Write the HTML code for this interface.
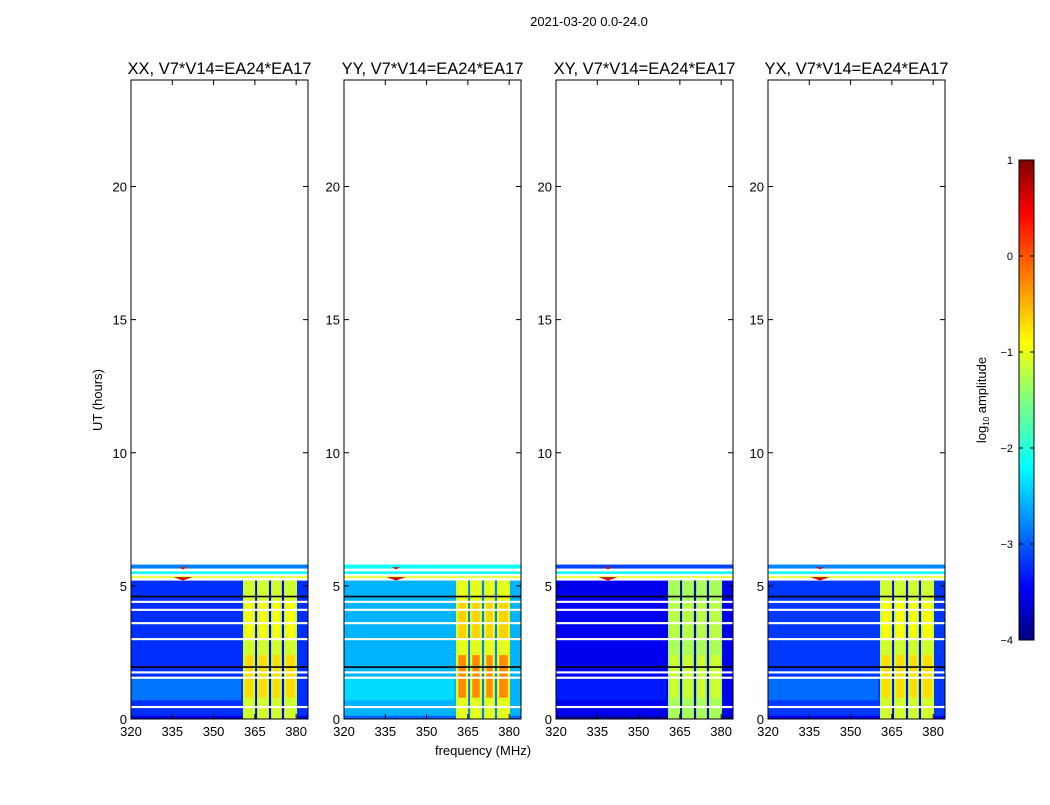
<!DOCTYPE html>
<html><head><meta charset="utf-8">
<style>
body{margin:0;background:#fff;width:1050px;height:800px;overflow:hidden;font-family:"Liberation Sans",sans-serif}
svg text{font-family:"Liberation Sans",sans-serif}
</style></head>
<body>
<svg id="chart" width="1050" height="800" xmlns="http://www.w3.org/2000/svg">
<defs>
<linearGradient id="jetgrad" x1="0" y1="1" x2="0" y2="0">
<stop offset="0" stop-color="#00007f"/><stop offset="0.11" stop-color="#0000ff"/><stop offset="0.36" stop-color="#00ffff"/><stop offset="0.5" stop-color="#7fff7f"/><stop offset="0.62" stop-color="#ffff00"/><stop offset="0.89" stop-color="#ff0000"/><stop offset="1" stop-color="#7f0000"/>
</linearGradient>
</defs>
<text x="589" y="26" font-size="13" text-anchor="middle">2021-03-20 0.0-24.0</text>
<text transform="translate(102,400) rotate(-90)" font-size="13" text-anchor="middle">UT (hours)</text>
<text x="483" y="755" font-size="13" text-anchor="middle">frequency (MHz)</text>
<g id="panels"></g>
<g>
<rect x="1019" y="160" width="15" height="480" fill="url(#jetgrad)" stroke="#000" stroke-width="1"/>
<g id="cbticks"></g>
<text transform="translate(986,400) rotate(-90)" font-size="13" text-anchor="middle">log<tspan font-size="8" dy="3">10</tspan><tspan dy="-3"> amplitude</tspan></text>
</g>
</svg>
<script>
// ---- data ----
const panelTitles = ["XX, V7*V14=EA24*EA17","YY, V7*V14=EA24*EA17","XY, V7*V14=EA24*EA17","YX, V7*V14=EA24*EA17"];
const bgLevel = [-3.15, -2.5, -3.45, -3.1];
const lowBgLevel = [-2.8, -2.3, -3.25, -2.85];
const hotLevel = [-1.1, -1.0, -1.3, -1.1];
const hotPeak = [-0.7, -0.3, -1.1, -0.7];
const hotBands = [[360.7,365.1],[365.8,370.1],[370.9,374.8],[375.6,380.3]];
const darkFreqs = [365.45, 370.5, 375.2];
const whiteRows = [0.45, 1.55, 1.75, 3.0, 3.6, 4.1, 4.4];
const blackRows = [1.95, 4.6];
const yTicks = [0,5,10,15,20];
const xTicks = [320,335,350,365,380];
const cbTicks = [1,0,-1,-2,-3,-4];
const rfiFreq = 338.9;
// ---- axes ----
const panelX = [131,344,556,768], pw = 177, plotTop = 80, plotBot = 719;
const fmin = 320, fmax = 384.3;
const yS = h => plotBot - h*(plotBot-plotTop)/24;
const xS = (p,f) => panelX[p] + (f-fmin)*pw/(fmax-fmin);
function jet(v){
  let t = Math.max(0,Math.min(1,(v+4)/5));
  const c = x => Math.round(255*Math.max(0,Math.min(1,1.5-Math.abs(4*t-x))));
  return `rgb(${c(3)},${c(2)},${c(1)})`;
}
const NS="http://www.w3.org/2000/svg";
function el(tag, attrs, parent){const e=document.createElementNS(NS,tag);for(const k in attrs)e.setAttribute(k,attrs[k]);parent.appendChild(e);return e;}
const G = document.getElementById('panels');
panelTitles.forEach((title,p)=>{
  const g = el('g',{},G);
  
  
  const x0 = panelX[p];
  const r = (f1,f2,h1,h2,fill,name)=>{
    const e = el('rect',{x:xS(p,f1),y:yS(h2),width:xS(p,f2)-xS(p,f1),height:yS(h1)-yS(h2),fill},g);
    
    
    return e;
  };
  r(fmin,fmax,0,5.2,jet(bgLevel[p]),'background');
  r(fmin,360,0.7,1.55,jet(lowBgLevel[p]),'low-region');
  r(fmin,fmax,0,0.12,jet(bgLevel[p]-0.4),'bottom-row');
  hotBands.forEach(b=>{
    r(b[0],b[1],0,5.2,jet(hotLevel[p]),'hot-band');
    r(b[0]+0.8,b[1]-0.8,0.8,2.4,jet(hotPeak[p]),'hot-peak');
    r(b[0]+0.8,b[1]-0.8,3.0,4.4,jet((hotLevel[p]+hotPeak[p])/2),'hot-mid');
  });
  darkFreqs.forEach(f=>r(f-0.3,f+0.3,0,5.2,jet(bgLevel[p]-0.3),'dark-channel'));
  whiteRows.forEach(h=>r(fmin,fmax,h-0.04,h+0.04,'#fff','flagged-row'));
  blackRows.forEach(h=>r(fmin,fmax,h-0.03,h+0.03,'#000','black-row'));
  r(fmin,fmax,5.2,5.45,'#fff','gap');
  r(fmin,fmax,5.3,5.36,jet(-1.0),'rfi-row');
  r(fmin,fmax,5.45,5.55,jet(-2.1),'cyan-row');
  r(fmin,fmax,5.55,5.65,'#fff','gap2');
  r(fmin,fmax,5.65,5.8,jet(bgLevel[p]+0.4),'top-row');
  const w = el('polygon',{points:`${xS(p,rfiFreq-3.5)},${yS(5.33)} ${xS(p,rfiFreq+3.5)},${yS(5.33)} ${xS(p,rfiFreq)},${yS(5.2)}`,fill:jet(0.6)},g);
  
  
  const w2 = el('polygon',{points:`${xS(p,rfiFreq-1.5)},${yS(5.7)} ${xS(p,rfiFreq+1.5)},${yS(5.7)} ${xS(p,rfiFreq)},${yS(5.62)}`,fill:jet(0.5)},g);
  
  
  const fr = el('rect',{x:x0,y:plotTop,width:pw,height:plotBot-plotTop,fill:'none',stroke:'#000','stroke-width':1},g);
  
  
  const t = el('text',{x:x0+pw/2,y:74,'font-size':16.5,'text-anchor':'middle'},g);
  t.textContent = title;
  
  
  yTicks.forEach(v=>{
    const y=yS(v);
    el('line',{x1:x0,x2:x0+5,y1:y,y2:y,stroke:'#000'},g);
    el('line',{x1:x0+pw-5,x2:x0+pw,y1:y,y2:y,stroke:'#000'},g);
    const tx=el('text',{x:x0-4,y:y+5,'font-size':13,'text-anchor':'end'},g);
    tx.textContent=v;
    
    
  });
  xTicks.forEach(v=>{
    const x=xS(p,v);
    el('line',{x1:x,x2:x,y1:plotBot,y2:plotBot-5,stroke:'#000'},g);
    el('line',{x1:x,x2:x,y1:plotTop,y2:plotTop+5,stroke:'#000'},g);
    const tx=el('text',{x:x,y:plotBot+17,'font-size':13,'text-anchor':'middle'},g);
    tx.textContent=v;
    
    
  });
});
const CB = document.getElementById('cbticks');
cbTicks.forEach(v=>{
  const y = 160 + (1-v)*96;
  el('line',{x1:1019,x2:1023,y1:y,y2:y,stroke:'#000'},CB);
  el('line',{x1:1030,x2:1034,y1:y,y2:y,stroke:'#000'},CB);
  const tx=el('text',{x:1013,y:y+4,'font-size':11,'text-anchor':'end'},CB);
  tx.textContent = v<0 ? '\u2212'+(-v) : v;
  
  
});
</script>
</body></html>
